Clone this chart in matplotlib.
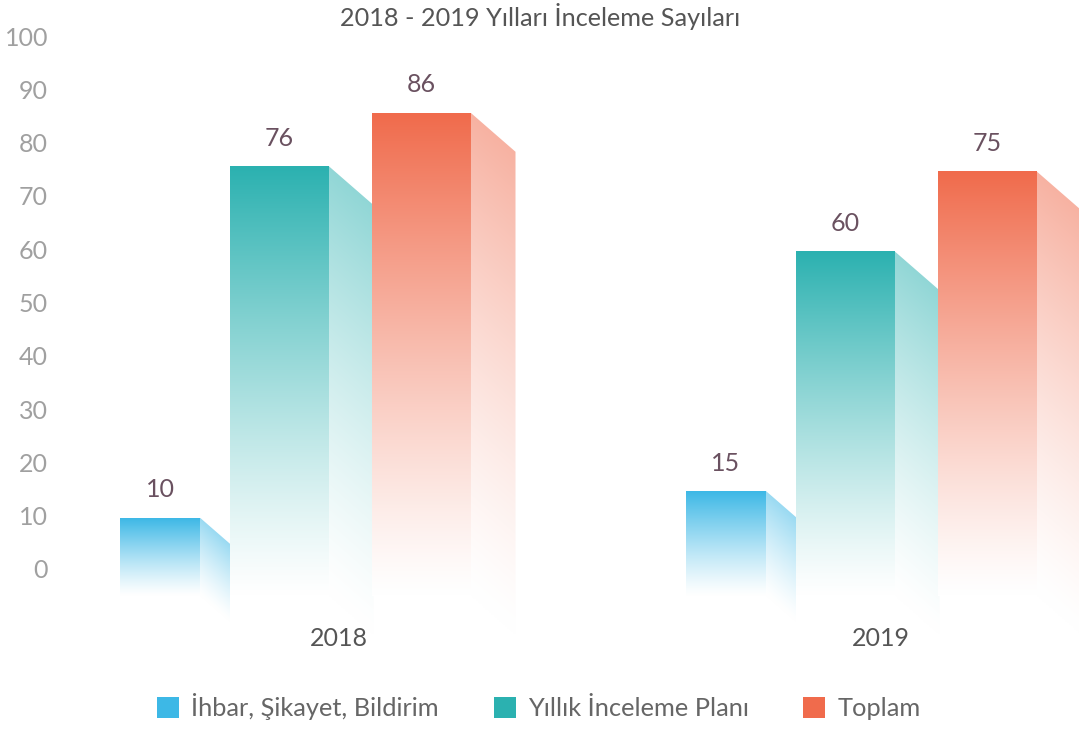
import numpy as np
import matplotlib
matplotlib.use("Agg")
import matplotlib.pyplot as plt
from matplotlib.patches import Polygon, Patch
from matplotlib.colors import to_rgb

# veriler
years = ["2018", "2019"]
series = ["İhbar, Şikayet, Bildirim", "Yıllık İnceleme Planı", "Toplam"]
values = {
    "İhbar, Şikayet, Bildirim": [10, 15],
    "Yıllık İnceleme Planı": [76, 60],
    "Toplam": [86, 75],
}
colors = ["#3db8e6", "#2bb1b0", "#f06b4c"]
yticks = list(range(0, 101, 10))
title = "2018 - 2019 Yılları İnceleme Sayıları"

plt.rcParams['font.family'] = ['Lato', 'DejaVu Sans']

W, H = 1079, 729
fig = plt.figure(figsize=(W / 100, H / 100), dpi=100)
ax = fig.add_axes([0, 0, 1, 1])
# x ekseni piksel, y ekseni değer birimi
px_per_unit = 5.33
zero_px = 571
ax.set_xlim(0, W)
ax.set_ylim((zero_px - H) / px_per_unit, zero_px / px_per_unit)
ax.axis('off')

group_start = [120, 686]
offsets = [0, 109.5, 251.5]
widths = [80, 99, 99]
depths = [30, 45, 45]          # yan yüz genişliği (px)
slope = 0.87                   # yan yüz eğimi (px/px)
vbot = -4.6                    # ön yüzün silindiği alt sınır


def grad_face(xs, ys, x0, x1, ytop, col, amax, skew, z, p=1.2):
    poly = Polygon(list(zip(xs, ys)), closed=True, facecolor='none', edgecolor='none')
    ax.add_patch(poly)
    yb = min(ys)
    yt = max(ys)
    nx, ny = 60, 300
    gx = np.linspace(x0, x1, nx)
    gy = np.linspace(yt, yb, ny)
    XX, YY = np.meshgrid(gx, gy)
    # eğik yüzde gradyan eğim boyunca kayar
    shift = skew * (XX - x0) / max(x1 - x0, 1)
    t = np.clip((YY + shift - vbot) / (ytop - vbot), 0, 1)
    a = amax * t ** p
    rgb = np.array(to_rgb(col))
    img = np.ones((ny, nx, 4))
    img[..., :3] = 1 - a[..., None] * (1 - rgb)   # beyaza karışım, opak
    im = ax.imshow(img, extent=[x0, x1, yb, yt], origin='upper',
                   aspect='auto', interpolation='bilinear', zorder=z)
    im.set_clip_path(poly)


z = 2
for gi, yr in enumerate(years):
    for si, name in enumerate(series):
        v = values[name][gi]
        col = colors[si]
        x0 = group_start[gi] + offsets[si]
        x1 = x0 + widths[si]
        d = depths[si]
        drop = d * slope / px_per_unit
        # yan yüz
        sx = [x1, x1 + d, x1 + d, x1]
        sy = [v, v - drop, vbot - drop, vbot]
        grad_face(sx, sy, x1, x1 + d, v, col, 0.52, drop, z, 1.3)
        # ön yüz
        fx = [x0, x1, x1, x0]
        fy = [v, v, vbot, vbot]
        grad_face(fx, fy, x0, x1, v, col, 1.0, 0, z + 0.5)
        z += 1
        ax.text((x0 + x1) / 2, v + 5.2, str(v), ha='center', va='center',
                fontsize=18, color='#6a5160', zorder=20)

for t in yticks:
    ax.text(48, t, str(t), ha='right', va='center', fontsize=18,
            color='#a0a0a0')

year_x = [339, 881]
for gi, yr in enumerate(years):
    ax.text(year_x[gi], (zero_px - 638) / px_per_unit, yr, ha='center', va='center',
            fontsize=18, color='#555555')

ax.text(540, (zero_px - 17) / px_per_unit, title, ha='center', va='center',
        fontsize=18.2, color='#555555')

handles = [Patch(facecolor=c, edgecolor='none', label=s) for s, c in zip(series, colors)]
fig.legend(handles=handles, loc='center', bbox_to_anchor=(539 / W, 1 - 707 / H), ncol=3,
           frameon=False, handlelength=0.87, handleheight=0.87,
           handletextpad=0.47, columnspacing=2.15, labelcolor='#666666',
           prop={'size': 18.3})

fig.savefig('out.png', dpi=100)
